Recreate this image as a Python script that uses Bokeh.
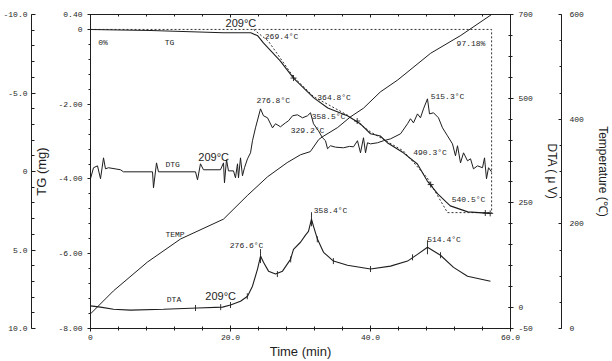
import numpy as np
from bokeh.plotting import figure
from bokeh.models import Range1d, LinearAxis, FixedTicker, ColumnDataSource
from bokeh.embed import file_html
from bokeh.resources import INLINE
from bokeh.core.properties import value

# ---------------- data (time in min) ----------------
# TG (mg)
tg_t = [0, 8.6, 19.0, 22.9, 23.9, 24.7, 27.1, 29.0, 31.9, 33.9, 36.7, 38.6, 40.0, 41.4,
        42.4, 44.7, 46.7, 48.1, 49.6, 51.4, 53.9, 57.1]
tg_v = [0, -0.03, -0.09, -0.09, -0.17, -0.36, -0.84, -1.30, -1.83, -2.10, -2.31, -2.53,
        -2.79, -2.85, -3.03, -3.30, -3.60, -4.05, -4.40, -4.72, -4.88, -4.92]
# dotted stepwise TG construction
tgd_t = [23.3, 25.4, 29.0, 31.9, 36.7, 40.0, 44.7, 48.1, 51.0, 57.3]
tgd_v = [0, -0.31, -1.27, -1.80, -2.29, -2.74, -3.25, -3.97, -4.90, -4.90]
box_t = [0, 57.3, 57.3]
box_v = [0, 0, -4.92]
tg_mark_t = [29.0, 38.1, 48.6, 56.4, 57.1]
tg_mark_v = [-1.30, -2.45, -4.15, -4.91, -4.92]

# DTG (inverted axis)
dtg_t = [0, 0.43, 1.0, 1.43, 1.86, 2.14, 2.57, 4.29, 4.71, 8.86, 9.0, 9.43, 9.71, 15.0,
         15.29, 15.71, 16.14, 18.57, 19.0, 19.14, 19.43, 19.71, 20.43, 20.71, 21.0, 21.14,
         21.43, 21.71, 22.0, 22.43, 22.86, 23.14, 23.57, 24.29, 24.71, 25.29, 26.0, 26.43,
         27.14, 27.86, 28.29, 28.86, 29.57, 30.29, 31.0, 31.43, 31.86, 32.57, 33.14, 33.57,
         33.86, 34.29, 35.0, 36.14, 37.0, 37.57, 38.14, 38.57, 39.0, 39.29, 39.57, 40.0,
         41.0, 41.86, 42.86, 44.29, 45.29, 45.71, 46.14, 46.71, 47.14, 47.57, 48.14, 48.43,
         49.0, 49.71, 50.29, 51.0, 51.71, 52.14, 52.43, 52.86, 53.29, 53.86, 54.29, 54.71,
         55.29, 56.0, 56.29, 56.57, 56.86, 57.29]
dtg_v = [0.46, -0.24, -0.36, 0.46, -0.87, -0.17, -0.24, -0.11, 0.02, 0.02, 1.04, -0.55,
         0.02, 0.02, 0.53, -0.49, -0.11, -0.11, -0.55, 0.72, -0.75, -0.04, -0.04, 0.40,
         -0.49, 0.40, -0.87, 0.27, -0.24, -0.81, -1.19, -1.96, -2.78, -3.99, -3.55, -3.42,
         -2.78, -3.04, -2.85, -3.10, -3.23, -3.55, -3.61, -3.42, -3.55, -3.74, -3.04, -2.59,
         -2.15, -1.96, -1.45, -1.64, -1.55, -1.51, -1.60, -1.57, -1.96, -1.19, -2.15, -1.19,
         -1.83, -1.76, -1.83, -1.96, -2.08, -2.40, -3.04, -3.36, -3.10, -3.67, -3.42, -3.99,
         -4.63, -3.67, -3.74, -3.42, -2.78, -2.27, -1.76, -1.00, -1.64, -0.55, -1.19, -0.68,
         -0.81, -0.17, -0.36, -0.24, -0.87, 0.46, -0.24, 0.02]

# DTA (uV)
dta_t = [0, 1.43, 3.29, 5.71, 10.43, 15.29, 18.86, 20.0, 21.43, 22.43, 23.14, 23.86,
         24.29, 24.71, 25.43, 26.43, 27.43, 28.57, 29.0, 30.0, 30.71, 31.14, 31.57, 31.86,
         32.43, 33.29, 34.71, 36.71, 40.0, 42.86, 45.29, 46.71, 48.14, 50.0, 51.86, 53.86,
         57.14]
dta_v = [4, 1, -4, -6, -4, -1, 1, 6, 15, 27, 51, 92, 123, 108, 87, 80, 87, 115, 139, 156,
         173, 182, 211, 194, 163, 132, 111, 101, 92, 99, 111, 127, 144, 125, 96, 75, 63]
dta_mark_t = [15.0, 18.6, 20.0, 22.4, 26.7, 28.6, 32.4, 34.7, 40.0, 46.0, 50.0]
dta_mark_v = [-1, 1, 6, 27, 80, 115, 163, 111, 92, 120, 125]
dta_peak_t = [24.29, 31.57, 48.14]
dta_peak_v = [123, 211, 144]

# Temperature (C)
temp_t = [0, 3.29, 8.14, 12.86, 19.0, 22.4, 25.3, 28.1, 30.0, 31.4, 32.6, 33.1, 35.3,
          37.1, 39.0, 41.4, 43.9, 48.6, 52.9, 57.3]
temp_v = [28, 72, 127, 171, 209, 254, 290, 317, 332, 338, 361, 366, 384, 404, 421, 452,
          475, 526, 560, 600]

# annotations (x in min, y on TG scale)
ann_text = ["0%", "TG", "269.4°C", "97.18%", "276.8°C", "364.8°C", "358.5°C",
            "329.2°C", "515.3°C", "490.3°C", "540.5°C", "DTG", "TEMP", "DTA",
            "276.6°C", "358.4°C", "514.4°C"]
ann_x = [1.1, 10.6, 24.9, 52.3, 23.7, 32.4, 31.6, 28.6, 48.6, 46.1, 51.6, 10.7, 10.7,
         10.9, 19.9, 31.9, 48.1]
ann_y = [-0.35, -0.35, -0.19, -0.37, -1.89, -1.81, -2.32, -2.69, -1.79, -3.28, -4.56,
         -3.60, -5.49, -7.23, -5.79, -4.85, -5.63]
big_text = ["209°C", "209°C", "209°C"]
big_x = [19.3, 15.4, 16.4]
big_y = [0.16, -3.41, -7.12]

INK = "#1e1e1e"
MONO = "Liberation Mono"
SANS = "Liberation Sans"

p = figure(width=612, height=361, output_backend="svg", toolbar_location=None,
           x_range=Range1d(0, 60), y_range=Range1d(-8, 0.4),
           x_axis_location=None, y_axis_location=None,
           min_border_left=90, min_border_right=102, min_border_top=14,
           min_border_bottom=32)
p.extra_y_ranges = {"dtg": Range1d(10, -10), "dta": Range1d(-50, 700),
                    "temp": Range1d(0, 600)}
p.grid.visible = False
p.outline_line_color = INK
p.background_fill_color = "white"
p.border_fill_color = "white"


def style(ax, ticks, minor, labels, tin, tout, mtin, mtout, standoff=4):
    ax.ticker = FixedTicker(ticks=ticks, minor_ticks=minor)
    ax.major_label_overrides = dict(zip(ticks, labels))
    ax.major_label_text_font = MONO
    ax.major_label_text_font_size = "8px"
    ax.major_label_text_color = INK
    ax.major_label_standoff = standoff
    ax.axis_line_color = INK
    ax.major_tick_line_color = INK
    ax.minor_tick_line_color = INK
    ax.major_tick_in = tin
    ax.major_tick_out = tout
    ax.minor_tick_in = mtin
    ax.minor_tick_out = mtout
    ax.axis_label_text_font = SANS
    ax.axis_label_text_font_style = "normal"
    ax.axis_label_text_font_size = "12px"
    ax.axis_label_text_color = INK


# left axes: TG (inner), DTG (outer)
ax_tg = LinearAxis(axis_label="TG (mg)")
style(ax_tg, [0.4, 0, -2, -4, -6, -8], list(np.round(np.arange(-8, 0.41, 0.4), 2)),
      ["0.40", "0", "-2.00", "-4.00", "-6.00", "-8.00"], 0, 3, 0, 2, 5)
ax_tg.axis_label_standoff = 6
ax_tg.axis_label_text_font_size = "13px"
p.add_layout(ax_tg, "left")

ax_dtg = LinearAxis(y_range_name="dtg")
style(ax_dtg, [-10, -5, 0, 5, 10], list(range(-10, 11)),
      ["-10.0", "-5.0", "0", "5.0", "10.0"], 4, 0, 3, 0, 4)
p.add_layout(ax_dtg, "left")

# right axes: DTA (inner), Temperature (outer)
ax_dta = LinearAxis(y_range_name="dta", axis_label="DTA ( μ V)")
style(ax_dta, [-50, 0, 250, 500, 700], list(range(-50, 701, 50)),
      ["-50", "0", "250", "500", "700"], 2, 3, 2, 2, 5)
ax_dta.axis_label_standoff = 9
p.add_layout(ax_dta, "right")

ax_temp = LinearAxis(y_range_name="temp", axis_label="Temperature (℃)")
style(ax_temp, [0, 200, 400, 600], list(range(0, 601, 50)),
      ["0", "200", "400", "600"], 3, 0, 2, 0, 8)
ax_temp.axis_label_standoff = 9
p.add_layout(ax_temp, "right")

# bottom / top
ax_x = LinearAxis(axis_label="Time (min)")
style(ax_x, [0, 20, 40, 60], list(range(0, 61, 4)), ["0", "20.0", "40.0", "60.0"],
      3, 3, 2, 2, 3)
ax_x.axis_label_text_font_size = "13px"
ax_x.axis_label_standoff = 1
p.add_layout(ax_x, "below")

ax_top = LinearAxis()
style(ax_top, [0, 20, 40, 60], list(range(0, 61, 4)), ["", "", "", ""], 3, 0, 2, 0, 0)
ax_top.major_label_text_font_size = "0px"
p.add_layout(ax_top, "above")

# curves
p.line(box_t, box_v, line_color=INK, line_width=0.9, line_dash="2 2")
p.line(tgd_t, tgd_v, line_color=INK, line_width=0.9, line_dash="2 2")
p.line(tg_t, tg_v, line_color=INK, line_width=1.1)
p.scatter(tg_mark_t, tg_mark_v, marker="cross", size=6, line_color=INK, line_width=0.9)

p.line(dtg_t, dtg_v, y_range_name="dtg", line_color=INK, line_width=1.0)

p.line(dta_t, dta_v, y_range_name="dta", line_color=INK, line_width=1.1)
p.scatter(dta_mark_t, dta_mark_v, y_range_name="dta", marker="dash", angle=np.pi / 2,
          size=6, line_color=INK, line_width=0.9)
p.scatter(dta_peak_t, dta_peak_v, y_range_name="dta", marker="dash", angle=np.pi / 2,
          size=14, line_color=INK, line_width=0.9)

p.line(temp_t, temp_v, y_range_name="temp", line_color=INK, line_width=1.0)

# annotations
src = ColumnDataSource(dict(x=ann_x, y=ann_y, text=ann_text))
p.text(x="x", y="y", text="text", source=src, text_font=value(MONO),
       text_font_size="8px", text_color=INK, text_baseline="middle", text_align="left")
src2 = ColumnDataSource(dict(x=big_x, y=big_y, text=big_text))
p.text(x="x", y="y", text="text", source=src2, text_font=value(SANS),
       text_font_size="11px", text_color=INK, text_baseline="middle", text_align="left")

open("out.html", "w").write(file_html(p, INLINE))
